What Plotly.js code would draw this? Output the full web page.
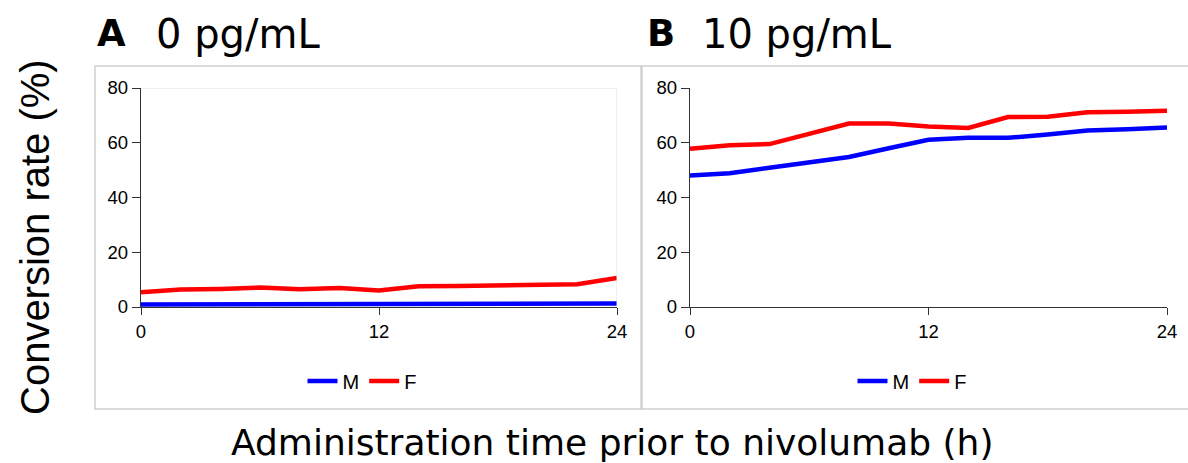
<!DOCTYPE html>
<html><head><meta charset="utf-8">
<script src="https://cdn.plot.ly/plotly-3.0.1.min.js"></script>
<style>html,body{margin:0;padding:0;background:#fff}</style>
</head><body><div id="chart" style="width:1188px;height:463px"></div>
<script>
const hours = [0,2,4,6,8,10,12,14,16,18,20,22,24];
const panelA_M = [0.9,0.9,0.9,1.0,1.0,1.0,1.0,1.0,1.0,1.1,1.2,1.2,1.3];
const panelA_F = [5.4,6.4,6.6,7.1,6.5,6.9,6.0,7.6,7.7,8.0,8.0,8.3,10.6];
const panelB_M = [48.0,48.9,50.9,52.9,54.8,58.0,61.1,61.8,61.8,63.0,64.5,64.9,65.6];
const panelB_F = [57.8,59.1,59.5,63.3,67.0,67.0,65.9,65.4,69.4,69.5,71.1,71.3,71.7];
const xTicks = [0,12,24];
const yTicks = [0,20,40,60,80];
const seriesNames = ['M','F'];
const panelTitles = ['0 pg/mL','10 pg/mL'];
const panelLetters = ['A','B'];

const W=1188,H=463;
const px = v=>v/W, py = v=>1-v/H;
const tickFont = {family:'"Liberation Sans", Arial, sans-serif', size:18.5, color:'#000'};
const mainFont = 'DejaVu Sans, Verdana, sans-serif';

function mk(x,y,name,color,xa,ya,leg){
  return {x:x,y:y,name:name,type:'scatter',mode:'lines',line:{color:color,width:4.5},xaxis:xa,yaxis:ya,legend:leg};
}
const data = [
  mk(hours,panelA_M,seriesNames[0],'#0000ff','x','y','legend'),
  mk(hours,panelA_F,seriesNames[1],'#ff0000','x','y','legend'),
  mk(hours,panelB_M,seriesNames[0],'#0000ff','x2','y2','legend2'),
  mk(hours,panelB_F,seriesNames[1],'#ff0000','x2','y2','legend2')
];
function xax(dom){return {domain:dom,range:[0,24],tickvals:xTicks,ticks:'outside',ticklen:7,tickcolor:'#333',showgrid:false,zeroline:false,showline:true,linecolor:'#333',linewidth:1.3,tickfont:tickFont,fixedrange:true};}
function yax(dom,anchor){return {domain:dom,anchor:anchor,range:[0,80],tickvals:yTicks,ticks:'outside',ticklen:8,tickcolor:'#333',showgrid:false,zeroline:false,showline:true,linecolor:'#333',linewidth:1.3,tickfont:tickFont,fixedrange:true};}
const ydom=[py(307),py(88)];
const legCommon = {orientation:'h',xanchor:'center',yanchor:'middle',y:py(381),font:{family:tickFont.family,size:20,color:'#000'},itemwidth:30,tracegroupgap:0,bgcolor:'rgba(0,0,0,0)',itemclick:false};
const layout = {
  width:W,height:H,margin:{l:0,r:0,t:0,b:0},paper_bgcolor:'#fff',plot_bgcolor:'rgba(0,0,0,0)',
  showlegend:true,
  xaxis:Object.assign(xax([px(141),px(617)]),{anchor:'y'}),
  yaxis:yax(ydom,'x'),
  xaxis2:Object.assign(xax([px(690),px(1167)]),{anchor:'y2'}),
  yaxis2:yax(ydom,'x2'),
  legend:Object.assign({},legCommon,{x:px(362)}),
  legend2:Object.assign({},legCommon,{x:px(912)}),
  shapes:[
    {type:'rect',xref:'paper',yref:'paper',x0:px(95),x1:px(641),y0:py(409),y1:py(66),line:{color:'#cfcfcf',width:1.5}},
    {type:'rect',xref:'paper',yref:'paper',x0:px(642),x1:px(1195),y0:py(409),y1:py(66),line:{color:'#cfcfcf',width:1.5}},
    {type:'line',xref:'x',yref:'y',x0:0,x1:24,y0:80,y1:80,line:{color:'#e0e0e0',width:1}},
    {type:'line',xref:'x',yref:'y',x0:24,x1:24,y0:0,y1:80,line:{color:'#e0e0e0',width:1}}
  ],
  annotations:[
    {text:'<b>'+panelLetters[0]+'</b>',xref:'paper',yref:'paper',x:px(95),y:py(34),xanchor:'left',yanchor:'middle',showarrow:false,font:{family:mainFont,size:37,color:'#000'}},
    {text:panelTitles[0],xref:'paper',yref:'paper',x:px(154),y:py(34),xanchor:'left',yanchor:'middle',showarrow:false,font:{family:mainFont,size:40,color:'#000'}},
    {text:'<b>'+panelLetters[1]+'</b>',xref:'paper',yref:'paper',x:px(645),y:py(34),xanchor:'left',yanchor:'middle',showarrow:false,font:{family:mainFont,size:37,color:'#000'}},
    {text:panelTitles[1],xref:'paper',yref:'paper',x:px(700),y:py(34),xanchor:'left',yanchor:'middle',showarrow:false,font:{family:mainFont,size:40,color:'#000'}},
    {text:'Conversion rate (%)',xref:'paper',yref:'paper',x:px(35),y:py(237),textangle:-90,xanchor:'center',yanchor:'middle',showarrow:false,font:{family:'"Liberation Sans", Arial, sans-serif',size:40,color:'#000'}},
    {text:'Administration time prior to nivolumab (h)',xref:'paper',yref:'paper',x:px(612),y:py(442),xanchor:'center',yanchor:'middle',showarrow:false,font:{family:mainFont,size:36,color:'#000'}}
  ]
};
Plotly.newPlot('chart',data,layout,{displayModeBar:false,staticPlot:true});
</script></body></html>
